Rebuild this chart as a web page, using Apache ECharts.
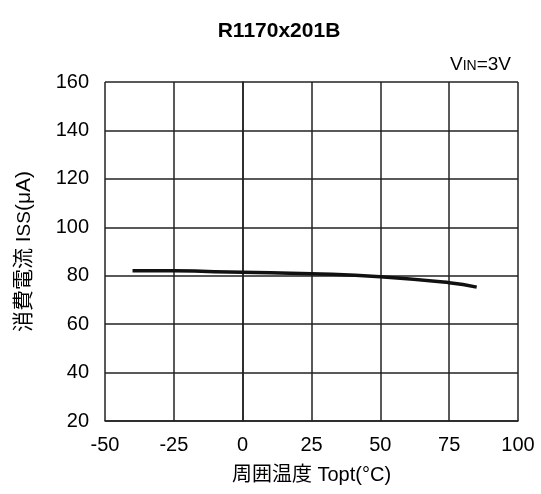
<!DOCTYPE html>
<html><head><meta charset="utf-8">
<script src="https://cdn.jsdelivr.net/npm/echarts@6/dist/echarts.min.js"></script>
<style>html,body{margin:0;padding:0;background:#fff}#c{width:541px;height:494px}</style>
</head><body><div id="c"></div>
<script>
const temps = [-40, -25, 0, 25, 50, 75, 85];
const iss = [82.1, 82.0, 81.4, 80.8, 79.6, 77.1, 75.3];
const xTicks = [-50, -25, 0, 25, 50, 75, 100];
const yTicks = [20, 40, 60, 80, 100, 120, 140, 160];
const ff = '"Liberation Sans", Arial, "Noto Sans CJK JP", sans-serif';
const chart = echarts.init(document.getElementById('c'));
chart.setOption({
  animation: false,
  backgroundColor: '#fff',
  title: [
    {text: 'R1170x201B', left: 274, top: 16, textAlign: 'center',
     textStyle: {fontFamily: ff, fontWeight: 'bold', fontSize: 21, color: '#000'}},
    {text: '{a|V}{b|IN}{a|=3V}', right: 25, top: 50,
     textStyle: {fontWeight: 'normal', rich: {
       a: {fontFamily: ff, fontSize: 19, fontWeight: 'normal', color: '#000'},
       b: {fontFamily: ff, fontSize: 14, fontWeight: 'normal', color: '#000', padding: [4, 0, 0, 0]}}}}
  ],
  grid: {left: 105, right: 23, top: 82, bottom: 73},
  xAxis: {
    type: 'value', min: -50, max: 100, interval: 25,
    name: '周囲温度 Topt(°C)', nameLocation: 'middle', nameGap: 44,
    nameTextStyle: {fontFamily: ff, fontSize: 20, color: '#000'},
    axisLine: {show: true, lineStyle: {color: '#222', width: 1.5}},
    axisTick: {show: false},
    axisLabel: {fontFamily: ff, fontSize: 20, color: '#000', margin: 14,
      formatter: v => xTicks.includes(v) ? String(v) : ''},
    splitLine: {show: true, lineStyle: {color: '#222', width: 1.5}}
  },
  yAxis: {
    type: 'value', min: 20, max: 160, interval: 20,
    name: '{n|消費電流 I}{s|SS}{n|(μA)}', nameLocation: 'middle', nameGap: 70, nameRotate: 90,
    nameTextStyle: {rich: {
      n: {fontFamily: ff, fontSize: 21, color: '#000'},
      s: {fontFamily: ff, fontSize: 19, color: '#000'}}},
    axisLine: {show: true, lineStyle: {color: '#222', width: 1.5}},
    axisTick: {show: false},
    axisLabel: {fontFamily: ff, fontSize: 20, color: '#000', margin: 16,
      formatter: v => yTicks.includes(v) ? String(v) : ''},
    splitLine: {show: true, lineStyle: {color: '#222', width: 1.5}}
  },
  series: [{
    type: 'line', smooth: true, showSymbol: false,
    data: temps.map((t, i) => [t, iss[i]]),
    lineStyle: {color: '#111', width: 3.5}
  }]
});
</script></body></html>
